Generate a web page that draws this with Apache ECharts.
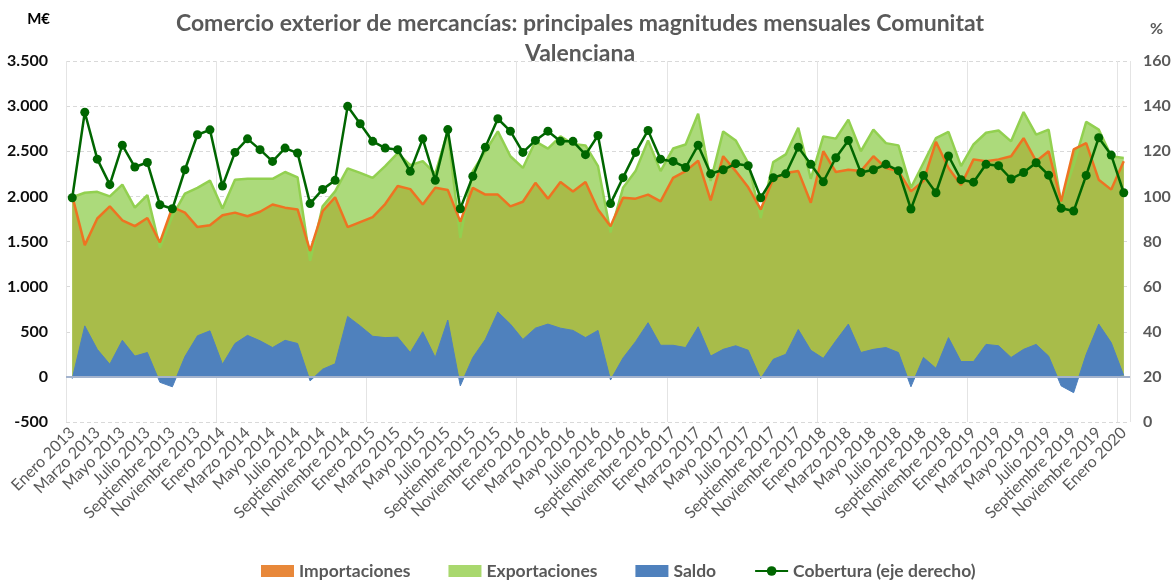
<!DOCTYPE html>
<html>
<head>
<meta charset="utf-8">
<title>Comercio exterior Comunitat Valenciana</title>
<script src="https://cdn.jsdelivr.net/npm/echarts@6/dist/echarts.min.js"></script>
<style>
  html, body { margin: 0; padding: 0; background: #fff; }
  #chart { width: 1176px; height: 582px; }
</style>
</head>
<body>
<div id="chart"></div>
<script>
// meses y años del eje de categorías
const months = ['Enero', 'Febrero', 'Marzo', 'Abril', 'Mayo', 'Junio', 'Julio', 'Agosto',
  'Septiembre', 'Octubre', 'Noviembre', 'Diciembre'];
const years = [2013, 2014, 2015, 2016, 2017, 2018, 2019, 2020];

// M€
const exportaciones = [
  1990, 2040, 2050, 2000, 2130, 1875, 2015, 1430, 1780, 2030, 2095, 2175,
  1865, 2185, 2195, 2195, 2195, 2270, 2210, 1285, 1890, 2055, 2310, 2260,
  2205, 2335, 2480, 2345, 2390, 2250, 2720, 1540, 2280, 2500, 2720, 2445,
  2315, 2610, 2530, 2665, 2580, 2565, 2335, 1600, 2095, 2280, 2620, 2280,
  2530, 2575, 2915, 2170, 2720, 2620, 2370, 1760, 2380, 2465, 2760, 2195,
  2665, 2640, 2850, 2500, 2740, 2590, 2565, 2095, 2370, 2645, 2715, 2335,
  2575, 2705, 2730, 2610, 2935, 2685, 2740, 1930, 2350, 2825, 2740, 2445,
  2425
];
const importaciones = [
  2005, 1460, 1755, 1890, 1735, 1670, 1760, 1490, 1880, 1820, 1660, 1680,
  1790, 1820, 1780, 1830, 1910, 1875, 1855, 1395, 1835, 1990, 1660, 1715,
  1770, 1915, 2115, 2080, 1910, 2095, 2070, 1720, 2095, 2020, 2020, 1890,
  1940, 2150, 1975, 2160, 2055, 2160, 1855, 1670, 1985, 1975, 2020, 1945,
  2205, 2280, 2395, 1955, 2445, 2280, 2100, 1855, 2195, 2260, 2280, 1930,
  2500, 2270, 2295, 2280, 2445, 2315, 2280, 2055, 2170, 2605, 2315, 2125,
  2410, 2390, 2410, 2445, 2645, 2390, 2500, 1945, 2520, 2590, 2185, 2075,
  2390
];
const saldo = [
  -20, 565, 305, 140, 405, 230, 270, -60, -110, 225, 455, 510,
  140, 370, 460, 400, 325, 405, 370, -45, 85, 145, 670, 565,
  450, 435, 440, 270, 500, 215, 630, -100, 215, 415, 720, 585,
  415, 540, 585, 540, 515, 435, 515, -35, 210, 390, 600, 350,
  350, 325, 555, 230, 305, 345, 295, -20, 195, 250, 525, 295,
  205, 400, 585, 270, 305, 325, 270, -110, 215, 95, 435, 170,
  170, 360, 345, 215, 305, 360, 230, -100, -175, 250, 585, 380,
  15
];
// %
const cobertura = [
  99.4, 137.3, 116.5, 105.2, 122.7, 113.0, 115.0, 96.3, 94.5, 111.8, 127.3, 129.5,
  104.6, 119.5, 125.5, 120.7, 115.5, 121.4, 119.2, 96.8, 103.1, 107.1, 139.9, 132.2,
  124.4, 121.4, 120.7, 111.1, 125.5, 107.1, 129.6, 94.5, 108.9, 121.8, 134.4, 128.9,
  119.5, 124.8, 128.9, 124.4, 124.4, 118.5, 127.0, 96.8, 108.3, 119.5, 129.2, 116.5,
  115.5, 112.8, 122.7, 110.0, 111.8, 114.5, 113.6, 99.4, 108.3, 110.0, 121.8, 114.2,
  106.5, 117.1, 124.8, 110.6, 111.8, 114.2, 111.4, 94.4, 109.3, 101.6, 117.9, 107.4,
  106.3, 114.2, 113.6, 107.7, 110.6, 114.9, 109.4, 94.7, 93.5, 109.3, 126.0, 118.3,
  101.6
];

const categorias = [];
years.forEach(y => months.forEach(m => categorias.push(m + ' ' + y)));
categorias.length = exportaciones.length;

const miles = v => String(v).replace(/\B(?=(\d{3})+(?!\d))/g, '.');

const chart = echarts.init(document.getElementById('chart'));
const gris = '#595959';
const fuente = 'Lato, "Open Sans", sans-serif';

chart.setOption({
  animation: false,
  textStyle: { fontFamily: fuente },
  title: {
    text: 'Comercio exterior de mercancías: principales magnitudes mensuales Comunitat\nValenciana',
    left: 575,
    textAlign: 'center',
    top: 4,
    textStyle: { color: gris, fontSize: 23, fontWeight: 'bold', lineHeight: 30, fontFamily: fuente }
  },
  grid: { left: 66, right: 46, top: 61, height: 361 },
  legend: {
    bottom: -3,
    left: 256,
    itemWidth: 33,
    itemHeight: 12,
    itemGap: 38,
    textStyle: { color: gris, fontSize: 17.5, fontWeight: 'bold', fontFamily: fuente },
    data: [
      { name: 'Importaciones', icon: 'rect', itemStyle: { color: '#e8883a' } },
      { name: 'Exportaciones', icon: 'rect', itemStyle: { color: '#a9d86e' } },
      { name: 'Saldo', icon: 'rect', itemStyle: { color: '#4f81bd' } },
      { name: 'Cobertura (eje derecho)' }
    ]
  },
  xAxis: {
    type: 'category',
    data: categorias,
    boundaryGap: true,
    axisLine: { show: false, onZero: false },
    axisTick: { show: false, interval: 11 },
    axisLabel: {
      interval: 1,
      rotate: 45,
      margin: 8,
      color: gris,
      fontSize: 16
    },
    splitLine: { show: true, interval: 11, lineStyle: { color: '#e4e4e4', width: 1 } }
  },
  yAxis: [
    {
      type: 'value',
      name: 'M€',
      nameLocation: 'end',
      nameGap: 34,
      nameTextStyle: { color: '#000', fontSize: 15, fontWeight: 'bold', align: 'right', padding: [0, 16, 0, 0] },
      min: -500,
      max: 3500,
      interval: 500,
      axisLine: { show: false },
      axisTick: { show: false },
      axisLabel: { color: '#0d0d0d', fontSize: 16, fontWeight: 'bold', margin: 18, formatter: miles },
      splitLine: { lineStyle: { color: '#d9d9d9', type: [4, 3] } }
    },
    {
      type: 'value',
      name: '%',
      nameLocation: 'end',
      nameGap: 24,
      nameTextStyle: { color: gris, fontSize: 16, fontWeight: 'bold', align: 'left', padding: [0, 0, 0, 20] },
      min: 0,
      max: 160,
      interval: 20,
      axisLine: { show: false },
      axisTick: { show: false },
      axisLabel: { color: gris, fontSize: 16, fontWeight: 'bold', margin: 13 },
      splitLine: { show: false }
    }
  ],
  series: [
    {
      name: 'Exportaciones',
      type: 'line',
      data: exportaciones,
      symbol: 'none',
      itemStyle: { color: '#a9d86e' },
      lineStyle: { color: '#92d050', width: 2.5 },
      areaStyle: { color: '#acda7b', opacity: 1 }
    },
    {
      name: 'Importaciones',
      type: 'line',
      data: importaciones,
      symbol: 'none',
      itemStyle: { color: '#e8883a' },
      lineStyle: { color: '#ee7322', width: 2.5 },
      areaStyle: { color: '#a8bc4a', opacity: 1 }
    },
    {
      name: 'Saldo',
      type: 'line',
      data: saldo,
      symbol: 'none',
      itemStyle: { color: '#4f81bd' },
      lineStyle: { color: '#4f81bd', width: 1 },
      areaStyle: { color: '#4f81bd', opacity: 1 },
      markLine: {
        silent: true,
        symbol: 'none',
        label: { show: false },
        lineStyle: { color: '#a3b3cd', width: 2, type: 'solid' },
        data: [{ yAxis: 0 }]
      }
    },
    {
      name: 'Cobertura (eje derecho)',
      type: 'line',
      yAxisIndex: 1,
      data: cobertura,
      symbol: 'circle',
      symbolSize: 9,
      showAllSymbol: true,
      itemStyle: { color: '#006600' },
      lineStyle: { color: '#006600', width: 2.5 },
      z: 5
    }
  ]
});
</script>
</body>
</html>
